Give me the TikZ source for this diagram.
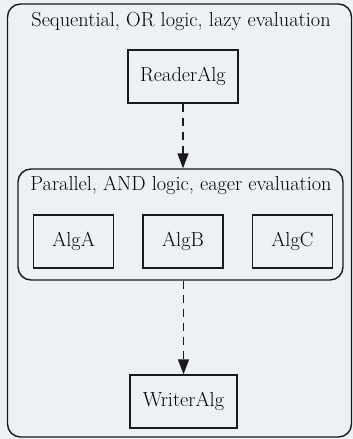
\documentclass[tikz,border=0pt]{standalone}
\usetikzlibrary{arrows.meta,positioning}
\definecolor{pagebg}{HTML}{EDF0F5}
\definecolor{inkline}{HTML}{1A1A1A}
\tikzset{
  algbox/.style={draw=inkline,line width=1.4pt,fill=none,inner sep=0pt,font=\fontsize{20.3}{24}\selectfont},
  cluster/.style={draw=inkline,line width=1.4pt,rounded corners=13pt,inner sep=0pt},
  ctitle/.style={font=\fontsize{20.3}{24}\selectfont,inner sep=0pt},
  flow/.style={-{Triangle[length=15pt,width=11pt]},line width=1.4pt,color=inkline,dash pattern=on 8pt off 6pt},
}
\begin{document}
\begin{tikzpicture}[x=1pt,y=-1pt]
  \useasboundingbox (0,0) rectangle (353,439);
  \fill[pagebg] (0,0) rectangle (353,439);
  % outer cluster
  \node[cluster,minimum width=344pt,minimum height=433pt] (seq) at (179.5,220.5) {};
  \node[ctitle] (seqtitle) at (181,21) {Sequential, OR logic, lazy evaluation};
  \node[algbox,minimum width=110pt,minimum height=53pt] (reader) at (183,76.5) {ReaderAlg};
  % inner cluster
  \node[cluster,minimum width=325pt,minimum height=111pt] (par) at (180.5,224.5) {};
  \node[ctitle] (partitle) at (181,185) {Parallel, AND logic, eager evaluation};
  \node[algbox,minimum width=80pt,minimum height=53pt] (algb) at (183,241.5) {AlgB};
  \node[algbox,minimum width=80pt,minimum height=53pt,left=28pt of algb] (alga) {AlgA};
  \node[algbox,minimum width=80pt,minimum height=53pt,right=28pt of algb] (algc) {AlgC};
  \node[algbox,minimum width=107pt,minimum height=53pt] (writer) at (183.5,401.5) {WriterAlg};
  \draw[flow] (reader.south) -- (reader.south |- par.north);
  \draw[flow] (writer.north |- par.south) -- (writer.north);
\end{tikzpicture}
\end{document}
